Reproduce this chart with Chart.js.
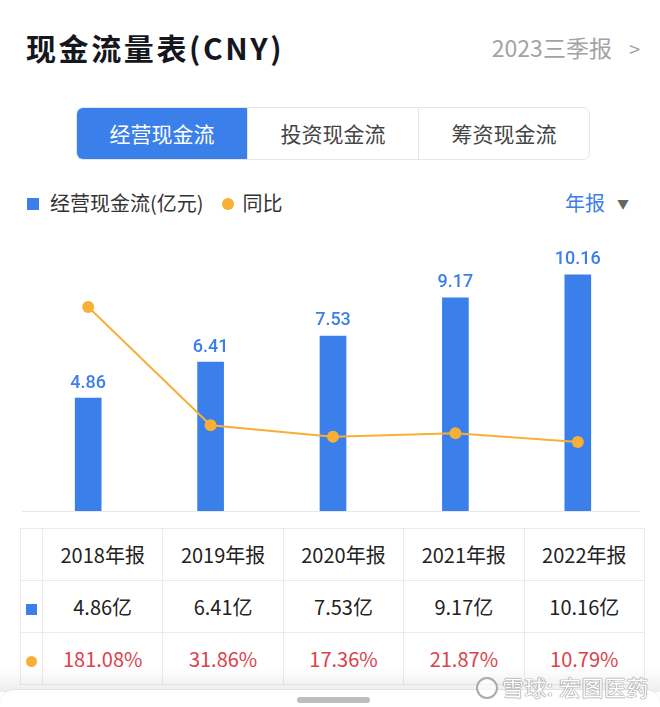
<!DOCTYPE html>
<html>
<head>
<meta charset="utf-8">
<script src="https://cdn.jsdelivr.net/npm/chart.js@4.4.0/dist/chart.umd.min.js"></script>
<style>
  html, body { margin: 0; padding: 0; background: #fff; }
  body { width: 660px; height: 707px; position: relative; overflow: hidden;
    font-family: "Noto Sans CJK SC", "Noto Sans", sans-serif; }
  .abs { position: absolute; }
  #title { left: 26px; top: 25px; font-size: 30px; font-weight: bold; color: #16161e; line-height: 44px; letter-spacing: 2.6px; }
  #period { right: 20px; top: 29px; font-size: 23px; color: #a3a3a3; line-height: 36px; }
  #period span { margin-left: 17px; font-size: 20px; }
  #tabs { left: 76px; top: 107px; width: 514px; height: 53px; border: 1px solid #e6e6e6; border-radius: 7px; box-sizing: border-box; display: flex; overflow: hidden; }
  #tabs div { flex: 1; text-align: center; line-height: 51px; font-size: 21px; color: #444; border-left: 1px solid #e6e6e6; }
  #tabs div:first-child { border-left: none; background: #3b7fea; color: #fff; }
  #legend { left: 27px; top: 189px; height: 28px; font-size: 20px; color: #333; line-height: 28px; }
  .sq { display: inline-block; width: 12px; height: 12px; background: #3b7fea; vertical-align: middle; margin-right: 11px; position: relative; top: -2px; }
  .dot { display: inline-block; width: 12px; height: 12px; background: #f7b035; border-radius: 50%; vertical-align: middle; margin: 0 9px 0 18px; position: relative; top: -2px; }
  #annual { right: 31px; top: 189px; font-size: 20px; color: #3b7fea; line-height: 28px; }
  #annual span { color: #666; font-size: 12px; margin-left: 12px; position: relative; top: -2px; }
  #chartBox { left: 0; top: 230px; width: 660px; height: 290px; }
  table { position: absolute; left: 20px; top: 528px; width: 625px; border-collapse: collapse; table-layout: fixed; }
  td { border: 1px solid #ebebeb; text-align: center; height: 51px; padding: 0; font-size: 20px; color: #222; }
  td.ic { width: 21px; }
  tr.yoy td { color: #d9434c; }
  #shade { left: 0; top: 668px; width: 660px; height: 24px; background: linear-gradient(rgba(0,0,0,0), rgba(0,0,0,0.07)); }
  #sheet { left: 0; top: 689px; width: 660px; height: 30px; background: #fff; border-radius: 14px 14px 0 0; border-top: 1px solid #e2e2e2; }
  #handle { left: 297px; top: 697px; width: 73px; height: 6px; border-radius: 3px; background: #bdbdbd; }
  #wm { left: 476px; top: 671px; font-size: 22px; color: #fff; line-height: 30px; z-index: 5;
    text-shadow: 0 0 1px #888, 0 0 1px #888, 0 0 1px #888; letter-spacing: 0.5px; white-space: nowrap; }
  #wm i { display: inline-block; width: 22px; height: 22px; border: 2px solid #aaa; border-radius: 50%; box-sizing: border-box; vertical-align: middle; margin-right: 4px; position: relative; top: -2px; background: rgba(255,255,255,0.6); }
</style>
</head>
<body>
<div id="title" class="abs">现金流量表(CNY)</div>
<div id="period" class="abs">2023三季报<span>&gt;</span></div>
<div id="tabs" class="abs"><div>经营现金流</div><div>投资现金流</div><div>筹资现金流</div></div>
<div id="legend" class="abs"><span class="sq"></span>经营现金流(亿元)<span class="dot"></span>同比</div>
<div id="annual" class="abs">年报<span>▼</span></div>
<div id="chartBox" class="abs"><canvas id="chart" width="660" height="290"></canvas></div>
<table id="tbl"></table>
<div id="shade" class="abs"></div>
<div id="sheet" class="abs"></div>
<div id="handle" class="abs"></div>
<div id="wm" class="abs"><i></i>雪球: 宏图医药</div>

<script>
const years = ['2018年报', '2019年报', '2020年报', '2021年报', '2022年报'];
const cashFlow = [4.86, 6.41, 7.53, 9.17, 10.16]; // 亿元
const yoy = [181.08, 31.86, 17.36, 21.87, 10.79]; // %

const BLUE = '#3b7fea';
const ORANGE = '#f7b035';

// 柱顶数值 + 底线
const labelPlugin = {
  id: 'barLabels',
  beforeDatasetsDraw(chart) {
    const { ctx, chartArea } = chart;
    ctx.save();
    ctx.strokeStyle = '#e8e8e8';
    ctx.lineWidth = 1;
    ctx.beginPath();
    ctx.moveTo(22, chartArea.bottom + 0.5);
    ctx.lineTo(640, chartArea.bottom + 0.5);
    ctx.stroke();
    ctx.restore();
  },
  afterDatasetsDraw(chart) {
    const { ctx } = chart;
    const meta = chart.getDatasetMeta(1);
    ctx.save();
    ctx.fillStyle = BLUE;
    ctx.font = '500 18px "Roboto", "Noto Sans", sans-serif';
    ctx.textAlign = 'center';
    ctx.textBaseline = 'bottom';
    meta.data.forEach((bar, i) => {
      ctx.fillText(cashFlow[i].toFixed(2), bar.x, bar.y - 6);
    });
    ctx.restore();
  }
};

new Chart(document.getElementById('chart'), {
  data: {
    labels: years,
    datasets: [
      {
        type: 'line',
        label: '同比',
        data: yoy,
        yAxisID: 'y2',
        borderColor: ORANGE,
        borderWidth: 2,
        pointRadius: 6,
        pointBackgroundColor: ORANGE,
        pointBorderWidth: 0,
        tension: 0,
        order: 0
      },
      {
        type: 'bar',
        label: '经营现金流(亿元)',
        data: cashFlow,
        yAxisID: 'y',
        backgroundColor: BLUE,
        barThickness: 26,
        order: 1
      }
    ]
  },
  options: {
    responsive: false,
    animation: false,
    layout: { padding: { left: 27, right: 21, top: 10, bottom: 9 } },
    plugins: { legend: { display: false }, tooltip: { enabled: false } },
    scales: {
      x: { display: false },
      y: { display: false, min: 0, max: 11.66 },
      y2: { display: false, min: -76.2, max: 265.5 }
    }
  },
  plugins: [labelPlugin]
});

// 表格
const tbl = document.getElementById('tbl');
let html = '<tr><td class="ic"></td>' + years.map(y => `<td>${y}</td>`).join('') + '</tr>';
html += '<tr><td class="ic"><span class="sq" style="width:11px;height:11px;margin:0;top:0"></span></td>' +
  cashFlow.map(v => `<td>${v.toFixed(2)}亿</td>`).join('') + '</tr>';
html += '<tr class="yoy"><td class="ic"><span class="dot" style="width:11px;height:11px;margin:0;top:0"></span></td>' +
  yoy.map(v => `<td>${v.toFixed(2)}%</td>`).join('') + '</tr>';
tbl.innerHTML = html;
</script>
</body>
</html>
